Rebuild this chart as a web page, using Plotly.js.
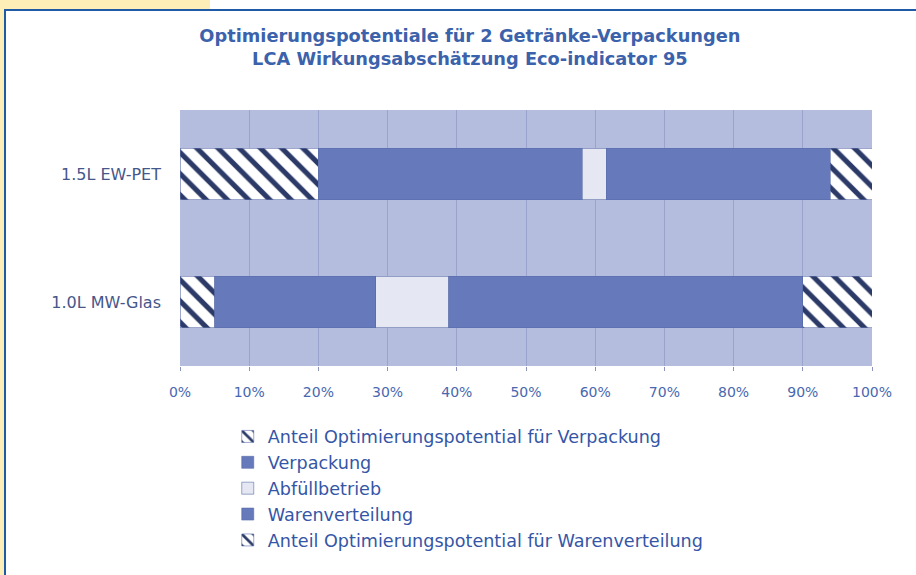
<!DOCTYPE html>
<html>
<head>
<meta charset="utf-8">
<script src="https://cdn.plot.ly/plotly-3.0.1.min.js"></script>
<style>
  html, body { margin:0; padding:0; background:#ffffff; }
  #wrap { position:relative; width:916px; height:575px; overflow:hidden; background:#ffffff; }
  #ytop { position:absolute; left:0; top:0; width:210px; height:9px; background:#fdeeb8; }
  #yleft { position:absolute; left:0; top:0; width:4px; height:575px; background:#fdeeb8; }
  #frame { position:absolute; left:4px; top:9px; width:930px; height:600px; border-top:2px solid #1f5aa6; border-left:2px solid #1f5aa6; }
  #chart { position:absolute; left:0; top:0; width:916px; height:575px; }
</style>
</head>
<body>
<div id="wrap">
  <div id="ytop"></div>
  <div id="yleft"></div>
  <div id="frame"></div>
  <div id="chart"></div>
</div>
<script>
// ---- data ----
const categories = ['1.5L EW-PET', '1.0L MW-Glas'];
const seriesNames = [
  'Anteil Optimierungspotential für Verpackung',
  'Verpackung',
  'Abfüllbetrieb',
  'Warenverteilung',
  'Anteil Optimierungspotential für Warenverteilung'
];
const optVerpackung   = [20.0, 5.0];
const verpackung      = [38.1, 23.3];
const abfuellbetrieb  = [3.5, 10.5];
const warenverteilung = [32.4, 51.2];
const optWaren        = [6.0, 10.0];
const xTickVals  = [0, 10, 20, 30, 40, 50, 60, 70, 80, 90, 100];
const xTickText  = ['0%', '10%', '20%', '30%', '40%', '50%', '60%', '70%', '80%', '90%', '100%'];

const seriesValues = [optVerpackung, verpackung, abfuellbetrieb, warenverteilung, optWaren];

const hatch = {shape: '\\', bgcolor: '#ffffff', fgcolor: '#2c3a68', size: 15, solidity: 0.34, fillmode: 'replace'};
const styles = [
  {color: '#ffffff', pattern: hatch},
  {color: '#6579bb'},
  {color: '#e5e8f3'},
  {color: '#6579bb'},
  {color: '#ffffff', pattern: hatch}
];

const traces = seriesValues.map((vals, i) => ({
  type: 'bar',
  orientation: 'h',
  name: seriesNames[i],
  legendgroup: 'g' + i,
  y: categories,
  x: vals,
  marker: Object.assign({line: {width: 0.6, color: '#5a6ca8'}}, styles[i]),
  hoverinfo: 'name+x'
}));

const layout = {
  width: 916,
  height: 575,
  paper_bgcolor: 'rgba(0,0,0,0)',
  plot_bgcolor: '#b5bddf',
  barmode: 'stack',
  bargap: 0.6,
  margin: {l: 180, r: 44, t: 110, b: 209, pad: 0, autoexpand: false},
  font: {family: 'DejaVu Sans, Liberation Sans, Arial, sans-serif', color: '#3d5ea8'},
  title: {
    text: 'Optimierungspotentiale für 2 Getränke-Verpackungen<br>LCA Wirkungsabschätzung Eco-indicator 95',
    font: {family: 'DejaVu Sans, Arial, sans-serif', size: 17.8, weight: 'bold', color: '#3b62aa'},
    xref: 'container', x: 0.513, xanchor: 'center',
    yref: 'container', y: 0.927, yanchor: 'top'
  },
  xaxis: {
    range: [0, 100],
    tickvals: xTickVals,
    ticktext: xTickText,
    showgrid: true,
    gridcolor: '#9aa3cb',
    gridwidth: 1,
    zeroline: false,
    showline: false,
    ticks: 'outside',
    ticklen: 4,
    tickcolor: '#8a93b8',
    ticklabelstandoff: 9,
    tickfont: {size: 14, color: '#4868b0'},
    fixedrange: true
  },
  yaxis: {
    type: 'category',
    categoryorder: 'array',
    categoryarray: categories,
    autorange: 'reversed',
    showgrid: false,
    zeroline: false,
    showline: false,
    ticks: '',
    ticklabelstandoff: 18,
    tickfont: {size: 16, color: '#45578a'},
    fixedrange: true
  },
  showlegend: true,
  legend: {
    orientation: 'v',
    traceorder: 'grouped',
    tracegroupgap: 0,
    x: 0.069, xanchor: 'left',
    y: -0.205, yanchor: 'top',
    bgcolor: 'rgba(0,0,0,0)',
    font: {size: 17.6, color: '#3556a6'},
    itemwidth: 30
  }
};

Plotly.newPlot('chart', traces, layout, {displayModeBar: false, staticPlot: false});
</script>
</body>
</html>
